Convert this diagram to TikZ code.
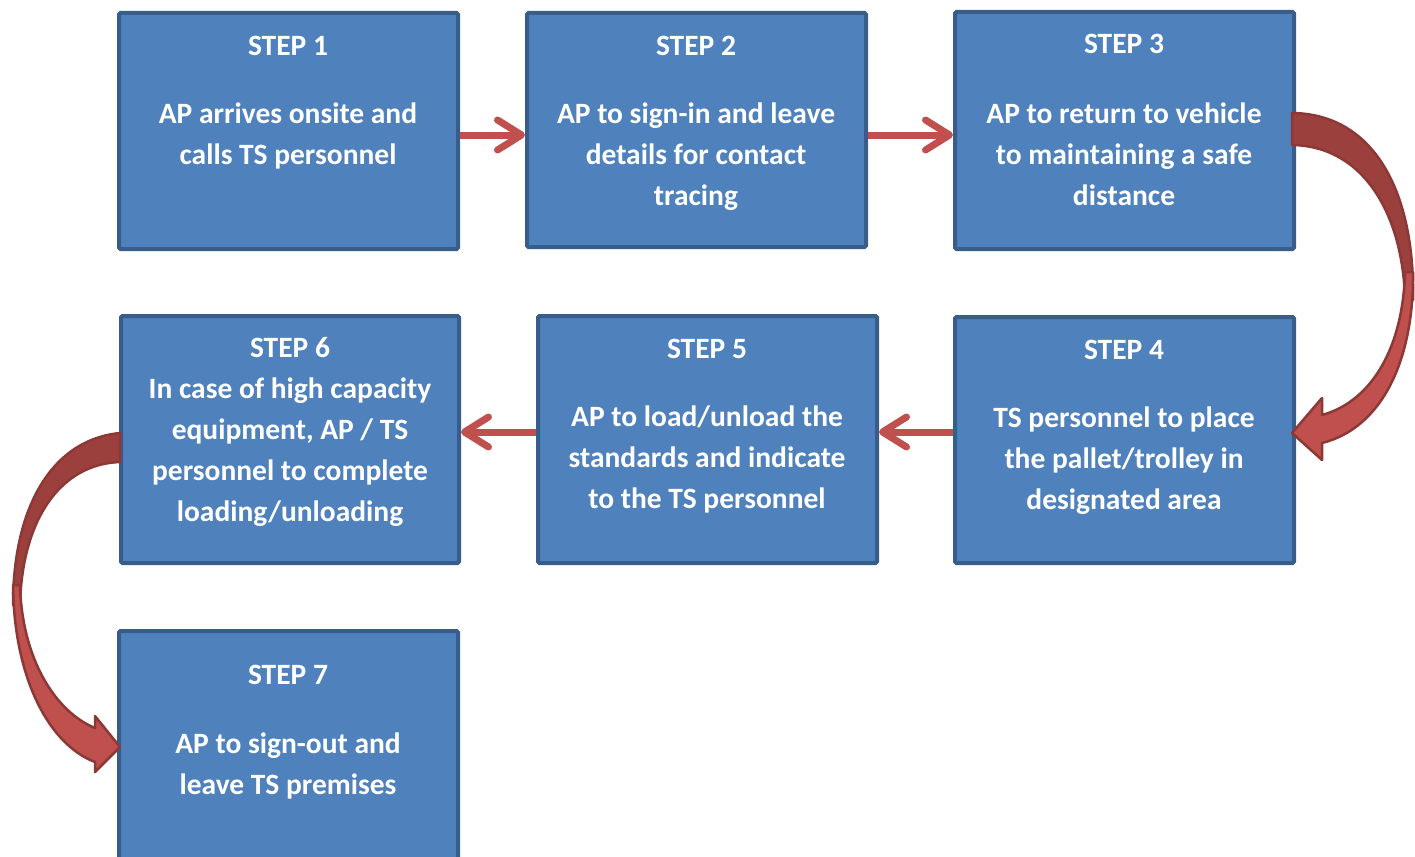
\documentclass[tikz,border=0pt]{standalone}
\usepackage{fontspec}
\setmainfont{Carlito}
\usetikzlibrary{arrows.meta}
\definecolor{boxfill}{HTML}{4F81BD}
\definecolor{boxline}{HTML}{385D8A}
\definecolor{arrred}{HTML}{C0504D}
\definecolor{arrdark}{HTML}{9C403E}
\definecolor{arredge}{HTML}{8C3836}
\begin{document}
\begin{tikzpicture}[x=1pt,y=-1pt,
  stepbox/.style={draw=boxline, fill=boxfill, line width=4pt, rounded corners=1.5pt, inner sep=0pt, minimum width=339pt},
  title/.style={text=white, font=\fontsize{29.5}{41}\selectfont\bfseries, inner sep=0pt},
  body/.style={title, align=center},
  flow/.style={draw=arrred, line width=7pt, -{Straight Barb[length=24pt,width=30pt,round]}},
  ribdark/.style={fill=arrdark, draw=arredge, line width=2.5pt, line join=round},
  riblight/.style={fill=arrred, draw=arredge, line width=2.5pt, line join=round}]
\useasboundingbox (0,0) rectangle (1415,856);
\clip (0,0) rectangle (1415,856);

% boxes
\node[stepbox, minimum height=236pt] (s1) at (288.5,131) {};
\node[stepbox, minimum height=234pt] (s2) at (696.5,130) {};
\node[stepbox, minimum height=237pt] (s3) at (1124.5,130.5) {};
\node[stepbox, minimum height=246pt] (s4) at (1124.5,440) {};
\node[stepbox, minimum height=247pt] (s5) at (707.5,439.5) {};
\node[stepbox, minimum height=247pt, minimum width=338pt] (s6) at (290,439.5) {};
\node[stepbox, minimum height=249pt] (s7) at (288.5,755.5) {};

% titles
\node[title] (t1) at (288,46) {STEP 1};
\node[title] (t2) at (696,46) {STEP 2};
\node[title] (t3) at (1124,44) {STEP 3};
\node[title] (t4) at (1124,350) {STEP 4};
\node[title] (t5) at (707,349) {STEP 5};
\node[title] (t6) at (290,348) {STEP 6};
\node[title] (t7) at (288,675) {STEP 7};

% bodies
\node[body] (b1) at (288,135.5) {AP arrives onsite and\\calls TS personnel};
\node[body] (b2) at (696,156.5) {AP to sign-in and leave\\details for contact\\tracing};
\node[body] (b3) at (1124,154.5) {AP to return to vehicle\\to maintaining a safe\\distance};
\node[body] (b4) at (1124,460.5) {TS personnel to place\\the pallet/trolley in\\designated area};
\node[body] (b5) at (707,459.5) {AP to load/unload the\\standards and indicate\\to the TS personnel};
\node[body] (b6) at (290,452.5) {In case of high capacity\\equipment, AP / TS\\personnel to complete\\loading/unloading};
\node[body] (b7) at (288,765.5) {AP to sign-out and\\leave TS premises};

% straight connectors
\draw[flow] (s1.east|-0,135) -- (s2.west|-0,135);
\draw[flow] (s2.east|-0,135) -- (s3.west|-0,135);
\draw[flow] (s4.west|-0,432) -- (s5.east|-0,432);
\draw[flow] (s5.west|-0,432) -- (s6.east|-0,432);

% curved connector step 3 -> step 4
\path[ribdark] (1292,113) .. controls (1376,114) and (1415,195) .. (1413,300)
  -- (1405,300) .. controls (1403,215) and (1364,146) .. (1292,145) -- cycle;
\path[riblight] (1413,272) .. controls (1414,360) and (1382,428) .. (1322,443)
  -- (1322,460) -- (1292,433) -- (1322,398) -- (1322,415)
  .. controls (1370,402) and (1403,350) .. (1405,272) -- cycle;

% curved connector step 6 -> step 7
\path[ribdark] (120,433) .. controls (50,440) and (13,510) .. (13,605)
  -- (20,605) .. controls (22,520) and (60,464) .. (120,462) -- cycle;
\path[riblight] (13,585) .. controls (14,680) and (50,745) .. (95,762)
  -- (95,772) -- (120,747) -- (95,716) -- (95,728)
  .. controls (56,712) and (22,660) .. (20,585) -- cycle;
\end{tikzpicture}
\end{document}
